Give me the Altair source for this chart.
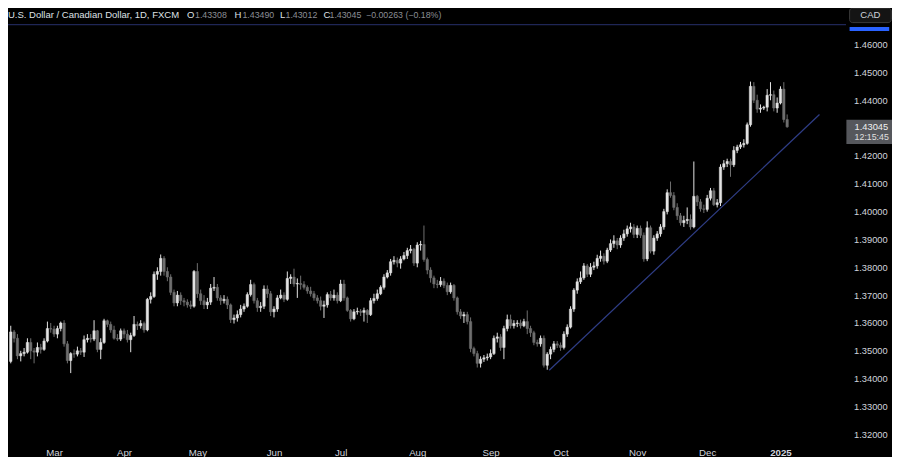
import altair as alt
import pandas as pd

# ---------------- data (USD/CAD daily, Feb 13 2024 -> Jan 3 2025) ----------------
opens = [
    1.3462, 1.3568, 1.3545, 1.3482, 1.3490, 1.3495, 1.3530, 1.3500, 1.3495, 1.3512, 1.3505, 1.3535, 1.3580,
    1.3578, 1.3560, 1.3580, 1.3600, 1.3525, 1.3465, 1.3490, 1.3488, 1.3500, 1.3495, 1.3540, 1.3545, 1.3542, 1.3572, 1.3505, 1.3530, 1.3608, 1.3595, 1.3575, 1.3545, 1.3542,
    1.3572, 1.3560, 1.3540, 1.3555, 1.3595, 1.3590, 1.3598, 1.3575, 1.3685, 1.3695, 1.3775, 1.3785, 1.3832, 1.3785, 1.3765, 1.3710, 1.3672, 1.3700, 1.3680, 1.3675, 1.3665, 1.3660,
    1.3785, 1.3705, 1.3680, 1.3665, 1.3675, 1.3725, 1.3728, 1.3690, 1.3680, 1.3685, 1.3665, 1.3612, 1.3618, 1.3630, 1.3650, 1.3660, 1.3702, 1.3738, 1.3680, 1.3655, 1.3660, 1.3722, 1.3705,
    1.3640, 1.3650, 1.3690, 1.3700, 1.3685, 1.3760, 1.3765, 1.3740, 1.3742, 1.3738, 1.3728, 1.3715, 1.3705, 1.3690, 1.3680, 1.3660, 1.3665, 1.3702, 1.3690, 1.3700,
    1.3680, 1.3740, 1.3690, 1.3645, 1.3615, 1.3640, 1.3642, 1.3638, 1.3645, 1.3630, 1.3680, 1.3688, 1.3705, 1.3728, 1.3765, 1.3780, 1.3820, 1.3825, 1.3815, 1.3830, 1.3842, 1.3860, 1.3865,
    1.3815, 1.3880, 1.3882, 1.3828, 1.3790, 1.3762, 1.3740, 1.3738, 1.3750, 1.3735, 1.3712, 1.3735, 1.3690, 1.3640, 1.3625, 1.3630, 1.3605, 1.3508, 1.3490, 1.3455, 1.3470, 1.3475,
    1.3478, 1.3490, 1.3545, 1.3550, 1.3512, 1.3580, 1.3612, 1.3590, 1.3598, 1.3600, 1.3590, 1.3605, 1.3580, 1.3565, 1.3530, 1.3525, 1.3545, 1.3448, 1.3488, 1.3505, 1.3525,
    1.3520, 1.3512, 1.3560, 1.3585, 1.3650, 1.3718, 1.3748, 1.3762, 1.3805, 1.3775, 1.3800, 1.3805, 1.3832, 1.3840, 1.3822, 1.3862, 1.3885, 1.3895, 1.3880, 1.3905, 1.3920, 1.3938, 1.3945,
    1.3918, 1.3940, 1.3915, 1.3830, 1.3942, 1.3858, 1.3905, 1.3920, 1.3945, 1.4000, 1.4068, 1.4058, 1.4015, 1.3985, 1.3960, 1.3968, 1.3972, 1.3945, 1.4055, 1.4035, 1.4010,
    1.4008, 1.4048, 1.4075, 1.4025, 1.4032, 1.4160, 1.4172, 1.4180, 1.4168, 1.4220, 1.4232, 1.4240, 1.4245, 1.4312, 1.4450, 1.4400, 1.4368, 1.4372, 1.4375, 1.4418, 1.4420, 1.4372,
    1.4390, 1.4440, 1.43308,
]
highs = [
    1.3590, 1.3575, 1.3560, 1.3500, 1.3510, 1.3545, 1.3545, 1.3510, 1.3530, 1.3525, 1.3545, 1.3605, 1.3600,
    1.3590, 1.3590, 1.3605, 1.3610, 1.3535, 1.3495, 1.3505, 1.3515, 1.3510, 1.3555, 1.3560, 1.3560, 1.3610, 1.3575, 1.3545, 1.3615, 1.3612, 1.3605, 1.3590, 1.3560, 1.3580,
    1.3580, 1.3575, 1.3565, 1.3625, 1.3605, 1.3610, 1.3605, 1.3690, 1.3710, 1.3785, 1.3800, 1.3846, 1.3840, 1.3800, 1.3775, 1.3720, 1.3715, 1.3710, 1.3690, 1.3685, 1.3680, 1.3790,
    1.3815, 1.3720, 1.3700, 1.3690, 1.3740, 1.3765, 1.3740, 1.3700, 1.3700, 1.3695, 1.3670, 1.3630, 1.3645, 1.3665, 1.3670, 1.3710, 1.3755, 1.3745, 1.3690, 1.3675, 1.3735, 1.3735, 1.3715,
    1.3660, 1.3700, 1.3720, 1.3710, 1.3785, 1.3775, 1.3795, 1.3760, 1.3770, 1.3750, 1.3735, 1.3730, 1.3715, 1.3700, 1.3695, 1.3680, 1.3710, 1.3715, 1.3720, 1.3710,
    1.3755, 1.3755, 1.3695, 1.3650, 1.3650, 1.3655, 1.3650, 1.3655, 1.3650, 1.3690, 1.3705, 1.3720, 1.3735, 1.3775, 1.3790, 1.3830, 1.3840, 1.3835, 1.3840, 1.3855, 1.3870, 1.3880, 1.3870,
    1.3890, 1.3895, 1.3950, 1.3835, 1.3800, 1.3770, 1.3755, 1.3765, 1.3760, 1.3745, 1.3745, 1.3740, 1.3695, 1.3650, 1.3640, 1.3640, 1.3620, 1.3515, 1.3500, 1.3480, 1.3485, 1.3490,
    1.3505, 1.3555, 1.3565, 1.3560, 1.3590, 1.3630, 1.3630, 1.3610, 1.3610, 1.3612, 1.3615, 1.3645, 1.3590, 1.3572, 1.3540, 1.3555, 1.3555, 1.3495, 1.3515, 1.3535, 1.3535,
    1.3530, 1.3570, 1.3595, 1.3660, 1.3725, 1.3760, 1.3785, 1.3815, 1.3812, 1.3815, 1.3820, 1.3845, 1.3860, 1.3850, 1.3870, 1.3900, 1.3915, 1.3905, 1.3915, 1.3935, 1.3950, 1.3960, 1.3955,
    1.3950, 1.3950, 1.3925, 1.3965, 1.3950, 1.3915, 1.3930, 1.3955, 1.4010, 1.4080, 1.4108, 1.4070, 1.4030, 1.3995, 1.3985, 1.4015, 1.3990, 1.4180, 1.4060, 1.4045, 1.4025,
    1.4060, 1.4085, 1.4085, 1.4045, 1.4170, 1.4185, 1.4190, 1.4190, 1.4235, 1.4240, 1.4250, 1.4260, 1.4320, 1.4467, 1.4465, 1.4420, 1.4385, 1.4380, 1.4440, 1.4465, 1.4435, 1.4410,
    1.4450, 1.4465, 1.43490,
]
lows = [
    1.3455, 1.3530, 1.3470, 1.3462, 1.3480, 1.3490, 1.3470, 1.3455, 1.3480, 1.3490, 1.3500, 1.3530, 1.3565,
    1.3550, 1.3545, 1.3570, 1.3515, 1.3455, 1.3420, 1.3475, 1.3480, 1.3485, 1.3478, 1.3530, 1.3530, 1.3535, 1.3495, 1.3470, 1.3525, 1.3585, 1.3565, 1.3540, 1.3535, 1.3535,
    1.3545, 1.3530, 1.3495, 1.3550, 1.3575, 1.3580, 1.3565, 1.3570, 1.3670, 1.3690, 1.3755, 1.3770, 1.3770, 1.3750, 1.3700, 1.3660, 1.3660, 1.3665, 1.3660, 1.3655, 1.3650, 1.3655,
    1.3690, 1.3665, 1.3650, 1.3650, 1.3665, 1.3715, 1.3680, 1.3665, 1.3670, 1.3650, 1.3600, 1.3598, 1.3605, 1.3620, 1.3640, 1.3655, 1.3695, 1.3670, 1.3640, 1.3640, 1.3650, 1.3690, 1.3625,
    1.3620, 1.3640, 1.3685, 1.3675, 1.3680, 1.3740, 1.3730, 1.3690, 1.3720, 1.3720, 1.3705, 1.3695, 1.3680, 1.3670, 1.3645, 1.3618, 1.3655, 1.3680, 1.3680, 1.3670,
    1.3675, 1.3680, 1.3640, 1.3605, 1.3610, 1.3630, 1.3625, 1.3605, 1.3600, 1.3625, 1.3670, 1.3680, 1.3700, 1.3720, 1.3760, 1.3770, 1.3810, 1.3800, 1.3795, 1.3825, 1.3830, 1.3850, 1.3805,
    1.3800, 1.3860, 1.3820, 1.3775, 1.3745, 1.3725, 1.3725, 1.3730, 1.3725, 1.3700, 1.3705, 1.3680, 1.3630, 1.3615, 1.3600, 1.3595, 1.3495, 1.3480, 1.3440, 1.3440, 1.3460, 1.3465,
    1.3470, 1.3485, 1.3530, 1.3500, 1.3470, 1.3570, 1.3580, 1.3580, 1.3585, 1.3580, 1.3585, 1.3560, 1.3550, 1.3520, 1.3515, 1.3515, 1.3440, 1.3432, 1.3470, 1.3495, 1.3510,
    1.3500, 1.3505, 1.3550, 1.3580, 1.3640, 1.3705, 1.3740, 1.3755, 1.3765, 1.3765, 1.3790, 1.3795, 1.3820, 1.3810, 1.3815, 1.3855, 1.3870, 1.3865, 1.3870, 1.3895, 1.3910, 1.3925, 1.3905,
    1.3905, 1.3905, 1.3820, 1.3822, 1.3850, 1.3845, 1.3895, 1.3910, 1.3935, 1.3990, 1.4050, 1.4005, 1.3970, 1.3950, 1.3945, 1.3955, 1.3935, 1.3940, 1.4020, 1.4000, 1.3995,
    1.4000, 1.4040, 1.4020, 1.4015, 1.4020, 1.4150, 1.4160, 1.4125, 1.4160, 1.4210, 1.4225, 1.4230, 1.4240, 1.4305, 1.4390, 1.4355, 1.4355, 1.4365, 1.4360, 1.4400, 1.4360, 1.4355,
    1.4385, 1.4320, 1.43012,
]
closes = [
    1.3568, 1.3545, 1.3482, 1.3490, 1.3495, 1.3530, 1.3500, 1.3495, 1.3512, 1.3505, 1.3535, 1.3580, 1.3578,
    1.3560, 1.3580, 1.3600, 1.3525, 1.3465, 1.3490, 1.3488, 1.3500, 1.3495, 1.3540, 1.3545, 1.3542, 1.3572, 1.3505, 1.3530, 1.3608, 1.3595, 1.3575, 1.3545, 1.3542, 1.3572,
    1.3560, 1.3540, 1.3555, 1.3595, 1.3590, 1.3598, 1.3575, 1.3685, 1.3695, 1.3775, 1.3785, 1.3832, 1.3785, 1.3765, 1.3710, 1.3672, 1.3700, 1.3680, 1.3675, 1.3665, 1.3660, 1.3785,
    1.3705, 1.3680, 1.3665, 1.3675, 1.3725, 1.3728, 1.3690, 1.3680, 1.3685, 1.3665, 1.3612, 1.3618, 1.3630, 1.3650, 1.3660, 1.3702, 1.3738, 1.3680, 1.3655, 1.3660, 1.3722, 1.3705, 1.3640,
    1.3650, 1.3690, 1.3700, 1.3685, 1.3760, 1.3765, 1.3740, 1.3742, 1.3738, 1.3728, 1.3715, 1.3705, 1.3690, 1.3680, 1.3660, 1.3665, 1.3702, 1.3690, 1.3700, 1.3680,
    1.3740, 1.3690, 1.3645, 1.3615, 1.3640, 1.3642, 1.3638, 1.3645, 1.3630, 1.3680, 1.3688, 1.3705, 1.3728, 1.3765, 1.3780, 1.3820, 1.3825, 1.3815, 1.3830, 1.3842, 1.3860, 1.3865, 1.3815,
    1.3880, 1.3882, 1.3828, 1.3790, 1.3762, 1.3740, 1.3738, 1.3750, 1.3735, 1.3712, 1.3735, 1.3690, 1.3640, 1.3625, 1.3630, 1.3605, 1.3508, 1.3490, 1.3455, 1.3470, 1.3475, 1.3478,
    1.3490, 1.3545, 1.3550, 1.3512, 1.3580, 1.3612, 1.3590, 1.3598, 1.3600, 1.3590, 1.3605, 1.3580, 1.3565, 1.3530, 1.3525, 1.3545, 1.3448, 1.3488, 1.3505, 1.3525, 1.3520,
    1.3512, 1.3560, 1.3585, 1.3650, 1.3718, 1.3748, 1.3762, 1.3805, 1.3775, 1.3800, 1.3805, 1.3832, 1.3840, 1.3822, 1.3862, 1.3885, 1.3895, 1.3880, 1.3905, 1.3920, 1.3938, 1.3945, 1.3918,
    1.3940, 1.3915, 1.3830, 1.3942, 1.3858, 1.3905, 1.3920, 1.3945, 1.4000, 1.4068, 1.4058, 1.4015, 1.3985, 1.3960, 1.3968, 1.3972, 1.3945, 1.4055, 1.4035, 1.4010, 1.4008,
    1.4048, 1.4075, 1.4025, 1.4032, 1.4160, 1.4172, 1.4180, 1.4168, 1.4220, 1.4232, 1.4240, 1.4245, 1.4312, 1.4450, 1.4400, 1.4368, 1.4372, 1.4375, 1.4418, 1.4420, 1.4372, 1.4390,
    1.4440, 1.43308, 1.43045,
]

price_ticks = [1.46, 1.45, 1.44, 1.42, 1.41, 1.40, 1.39, 1.38, 1.37, 1.36, 1.35, 1.34, 1.33, 1.32]
month_names = ["Jan", "Feb", "Mar", "Apr", "May", "Jun", "Jul", "Aug", "Sep", "Oct", "Nov", "Dec"]

trend_k = [161.6, 242.7]
trend_p = [1.3430, 1.4349]
top_level = [1.4672]

title_text = "U.S. Dollar / Canadian Dollar, 1D, FXCM"
ohlc_letters = ["O", "H", "L", "C"]
ohlc_values = ["1.43308", "1.43490", "1.43012", "1.43045"]
change_text = "\u22120.00263 (\u22120.18%)"
last_price = "1.43045"
countdown = "12:15:45"
currency = "CAD"

# ---------------- build frames ----------------
dates = pd.bdate_range("2024-02-13", "2025-01-03")
n = len(closes)
df = pd.DataFrame({
    "k": list(range(n)),
    "open": opens, "high": highs, "low": lows, "close": closes,
})
df["dir"] = ["up" if c >= o else "down" for o, c in zip(opens, closes)]

tick_idx, tick_lab = [], []
prev = None
for i, d in enumerate(dates[:n]):
    m = (d.year, d.month)
    if prev is not None and m != prev:
        tick_idx.append(i)
        tick_lab.append(str(d.year) if d.month == 1 else month_names[d.month - 1])
    prev = m
label_expr = " : ".join(f"datum.value == {i} ? '{l}'" for i, l in zip(tick_idx, tick_lab)) + " : ''"
year_idx = [i for i, l in zip(tick_idx, tick_lab) if l.isdigit()]
bold_test = " || ".join(f"datum.value == {i}" for i in year_idx) or "false"

FONT = "Liberation Sans"
UP = "#e3e3e3"
DOWN = "#6f6f6f"
AXIS_TXT = "#d1d4dc"

xs = alt.Scale(domain=[0.674, 247.36], nice=False, zero=False)
ys = alt.Scale(domain=[1.317247, 1.473136], nice=False, zero=False)
cs = alt.Scale(domain=["up", "down"], range=[UP, DOWN])

x_axis = alt.Axis(values=tick_idx, labelExpr=label_expr, grid=False, domain=False, ticks=False,
                  labelColor=AXIS_TXT, labelFontSize=9.7, labelPadding=5, title=None, labelFont=FONT,
                  labelFlush=False, labelOverlap=False,
                  labelFontWeight={"condition": {"test": bold_test, "value": "bold"}, "value": "normal"})
y_axis = alt.Axis(orient="right", values=price_ticks, format=".5f", grid=False, domain=False, ticks=False,
                  labelColor=AXIS_TXT, labelFontSize=9.3, labelPadding=13.6, title=None, labelFont=FONT,
                  labelOverlap=False)

base = alt.Chart(df)
wicks = base.mark_rule(strokeWidth=1, clip=True).encode(
    x=alt.X("k:Q", scale=xs, axis=x_axis),
    y=alt.Y("low:Q", scale=ys, axis=y_axis),
    y2="high:Q",
    color=alt.Color("dir:N", scale=cs, legend=None),
)
bodies = base.mark_bar(size=2.4, strokeWidth=0.5, clip=True).encode(
    x=alt.X("k:Q", scale=xs, axis=x_axis),
    y=alt.Y("open:Q", scale=ys, axis=y_axis),
    y2="close:Q",
    color=alt.Color("dir:N", scale=cs, legend=None),
    stroke=alt.Stroke("dir:N", scale=cs, legend=None),
)

trend = alt.Chart(pd.DataFrame({"k": trend_k, "p": trend_p})).mark_line(
    color="#2f3d86", strokeWidth=1.2).encode(
    x=alt.X("k:Q", scale=xs, axis=x_axis),
    y=alt.Y("p:Q", scale=ys, axis=y_axis),
)

top_line = alt.Chart(pd.DataFrame({"p": top_level})).mark_rule(color="#1f2656", strokeWidth=1.2).encode(
    x=alt.value(0), x2=alt.value(838),
    y=alt.Y("p:Q", scale=ys, axis=y_axis),
)


def txt(s, x, y, color, size, weight="normal", align="left"):
    return alt.Chart(pd.DataFrame({"t": [s]})).mark_text(
        align=align, baseline="middle", color=color, fontSize=size, font=FONT, fontWeight=weight
    ).encode(x=alt.value(x), y=alt.value(y), text="t:N")


def box(x1, x2, y1, y2, fill, stroke=None, radius=0):
    kw = dict(color=fill, cornerRadius=radius)
    if stroke:
        kw.update(stroke=stroke, strokeWidth=1)
    return alt.Chart(pd.DataFrame({"a": [0]})).mark_rect(**kw).encode(
        x=alt.value(x1), x2=alt.value(x2), y=alt.value(y1), y2=alt.value(y2))


HY = 6.8
VAL = "#8b8e95"
LET = "#dfe1e6"
header = [
    txt(title_text, 0, HY, LET, 9.5),
    txt(ohlc_letters[0], 179, HY, LET, 9.5),
    txt(ohlc_values[0], 187, HY, VAL, 8.8),
    txt(ohlc_letters[1], 226.5, HY, LET, 9.5),
    txt(ohlc_values[1], 234.4, HY, VAL, 8.8),
    txt(ohlc_letters[2], 272, HY, LET, 9.5),
    txt(ohlc_values[2], 277.5, HY, VAL, 8.8),
    txt(ohlc_letters[3], 315.5, HY, LET, 9.5),
    txt(ohlc_values[3], 321.5, HY, VAL, 8.8),
    txt(change_text, 358, HY, VAL, 8.8),
]

right_bits = [
    box(841.6, 883.2, 0, 14.6, "#141414", stroke="#3a3a3a", radius=3),
    txt(currency, 862.4, 6.5, AXIS_TXT, 9.5, align="center"),
    box(841.6, 881.2, 19.1, 23.0, "#2962ff"),
    box(838.4, 884, 111.8, 136.1, "#55575c"),
    txt(last_price, 846.6, 118.8, "#f0f0f0", 9.3),
    txt(countdown, 846.6, 129.2, "#e0e0e0", 8.8),
]

chart = alt.layer(top_line, trend, wicks, bodies, *header, *right_bits).properties(
    width=832, height=434,
    padding={"left": 0, "top": 0, "right": 52, "bottom": 15},
    autosize=alt.AutoSizeParams(type="none"),
).configure(background="#000000").configure_view(strokeWidth=0)

chart.save("out.html", embed_options={"renderer": "svg", "actions": False})
